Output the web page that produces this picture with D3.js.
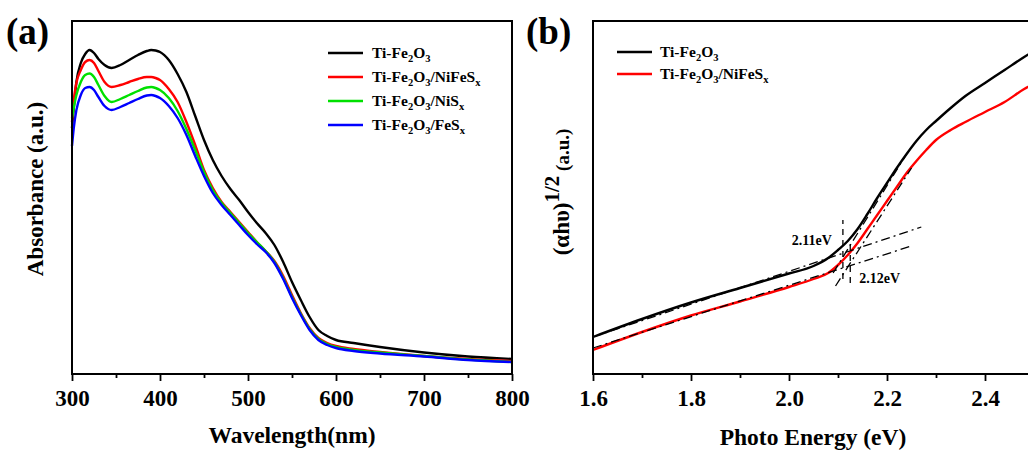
<!DOCTYPE html>
<html>
<head>
<meta charset="utf-8">
<script src="https://cdn.jsdelivr.net/npm/d3@7"></script>
<style>
  body { margin: 0; background: #fff; }
  svg { display: block; }
  text { font-family: "Liberation Serif", "Times New Roman", serif; font-weight: bold; }
</style>
</head>
<body>
<script>
// ---- panel (a) data: UV-vis absorbance (a.u.) ----
const wavelength = [300,302,305,310,315,320,325,330,337,345,355,365,375,385,390,395,400,410,420,430,440,450,460,470,480,490,500,510,520,530,540,550,560,570,580,590,600,620,650,700,750,800];
const absTiFe2O3 = [2.46,2.66,2.92,3.11,3.20,3.24,3.21,3.15,3.09,3.06,3.09,3.14,3.19,3.23,3.24,3.235,3.22,3.14,3.00,2.82,2.58,2.34,2.14,1.98,1.85,1.74,1.62,1.51,1.41,1.29,1.12,0.92,0.74,0.57,0.44,0.38,0.34,0.31,0.27,0.215,0.175,0.15];
const absNiFeS = [2.52,2.74,2.91,3.04,3.12,3.14,3.11,3.03,2.92,2.87,2.89,2.92,2.95,2.97,2.97,2.96,2.94,2.85,2.72,2.52,2.29,2.04,1.86,1.72,1.62,1.52,1.42,1.32,1.23,1.13,0.98,0.79,0.61,0.46,0.36,0.31,0.28,0.25,0.22,0.18,0.15,0.13];
const absNiS = [2.56,2.66,2.79,2.92,2.99,3.005,2.97,2.89,2.78,2.72,2.75,2.79,2.83,2.865,2.87,2.86,2.84,2.76,2.63,2.45,2.24,2.02,1.84,1.71,1.61,1.51,1.41,1.32,1.23,1.12,0.96,0.77,0.60,0.45,0.35,0.30,0.27,0.24,0.215,0.18,0.145,0.12];
const absFeS = [2.28,2.46,2.64,2.79,2.86,2.87,2.84,2.77,2.68,2.64,2.67,2.71,2.75,2.785,2.79,2.78,2.76,2.68,2.56,2.39,2.18,1.98,1.81,1.69,1.59,1.49,1.39,1.30,1.22,1.11,0.95,0.76,0.59,0.44,0.34,0.29,0.26,0.23,0.205,0.175,0.14,0.12];
const wlTicks = [300,400,500,600,700,800];

// ---- panel (b) data: Tauc plot ----
const energy = [1.60,1.70,1.80,1.90,2.00,2.05,2.08,2.10,2.12,2.14,2.16,2.18,2.20,2.22,2.24,2.26,2.28,2.30,2.33,2.36,2.40,2.44,2.48,2.51];
const taucTiFe2O3 = [0.37,0.55,0.715,0.86,1.005,1.08,1.16,1.24,1.33,1.45,1.60,1.76,1.91,2.06,2.20,2.33,2.44,2.53,2.66,2.78,2.91,3.04,3.17,3.26];
const taucNiFeS = [0.24,0.42,0.585,0.725,0.87,0.95,1.01,1.09,1.19,1.31,1.45,1.59,1.73,1.87,2.01,2.13,2.24,2.34,2.44,2.52,2.62,2.72,2.85,2.93];
const eTicks = [1.6,1.8,2.0,2.2,2.4];
// fitted lines [[E0, y0], [E1, y1]]
const fitBaseBlack = [[1.6,0.37],[2.27,1.47]];
const fitBaseRed = [[1.6,0.26],[2.25,1.28]];
const fitEdgeBlack = [[2.09,1.01],[2.24,2.20]];
const fitEdgeRed = [[2.095,0.88],[2.25,2.06]];
const gapMarks = [{e:2.11, y0:0.95, y1:1.54, label:"2.11eV"}, {e:2.125, y0:0.91, y1:1.36, label:"2.12eV"}];

const W = 1028, H = 450;
const serif = "'Liberation Serif', 'Times New Roman', serif";
const svg = d3.select("body").append("svg").attr("width", W).attr("height", H);
svg.append("rect").attr("width", W).attr("height", H).attr("fill", "#fff");

const yTop = 21, yBottom = 374;

function styleTicks(g) {
  g.attr("font-family", serif);
  g.select(".domain").remove();
  g.selectAll("line").attr("stroke-width", 1.8);
  g.selectAll("text").attr("y", 16).attr("font-size", 23).attr("fill", "#000")
    .style("font-family", serif).style("font-weight", "bold");
}

// ================= panel (a) =================
const xa = d3.scaleLinear().domain([300, 800]).range([72, 512]);
const ya = d3.scaleLinear().domain([0, 3.53]).range([yBottom, yTop]);

const ga = svg.append("g");
// minor ticks
ga.append("g").attr("transform", "translate(0," + yBottom + ")")
  .call(d3.axisBottom(xa).tickValues(d3.range(350, 800, 100)).tickSize(4).tickFormat(""))
  .call(styleTicks);
ga.append("g").attr("transform", "translate(0," + yBottom + ")")
  .call(d3.axisBottom(xa).tickValues(wlTicks).tickSize(7).tickFormat(d3.format("d")))
  .call(styleTicks);

const lineA = d3.line().x(d => xa(d[0])).y(d => ya(d[1])).curve(d3.curveMonotoneX);
const seriesA = [
  {vals: absTiFe2O3, color: "#000000"},
  {vals: absNiFeS, color: "#ff0000"},
  {vals: absNiS, color: "#00e000"},
  {vals: absFeS, color: "#0000ff"}
];
seriesA.forEach(s => {
  ga.append("path").datum(wavelength.map((w, i) => [w, s.vals[i]]))
    .attr("d", lineA).attr("fill", "none").attr("stroke", s.color).attr("stroke-width", 2.4);
});

ga.append("rect").attr("x", 72).attr("y", yTop).attr("width", 440).attr("height", yBottom - yTop)
  .attr("fill", "none").attr("stroke", "#000").attr("stroke-width", 2);

// legend (a)
const legA = [
  {color: "#000000", suffix: ""},
  {color: "#ff0000", suffix: "NiFeS"},
  {color: "#00e000", suffix: "NiS"},
  {color: "#0000ff", suffix: "FeS"}
];
function formula(t, suffix) {
  t.append("tspan").text("Ti-Fe");
  t.append("tspan").text("2").attr("font-size", "0.68em").attr("dy", 4);
  t.append("tspan").text("O").attr("dy", -4);
  t.append("tspan").text("3").attr("font-size", "0.68em").attr("dy", 4);
  if (suffix) {
    t.append("tspan").text("/" + suffix).attr("dy", -4);
    t.append("tspan").text("x").attr("font-size", "0.68em").attr("dy", 4);
  }
}
legA.forEach((d, i) => {
  const yy = 53 + i * 24;
  ga.append("line").attr("x1", 328).attr("x2", 363).attr("y1", yy).attr("y2", yy)
    .attr("stroke", d.color).attr("stroke-width", 2.4);
  const t = ga.append("text").attr("x", 372).attr("y", yy + 5).attr("font-size", 15.5);
  formula(t, d.suffix);
});

ga.append("text").attr("x", 292).attr("y", 443).attr("text-anchor", "middle")
  .attr("font-size", 23.5).text("Wavelength(nm)");
ga.append("text").attr("transform", "translate(43,189) rotate(-90)").attr("text-anchor", "middle")
  .attr("font-size", 23).text("Absorbance (a.u.)");
ga.append("text").attr("x", 6).attr("y", 44).attr("font-size", 37).text("(a)");

// ================= panel (b) =================
const xb = d3.scaleLinear().domain([1.6, 2.5]).range([593, 1034]);
const yb = d3.scaleLinear().domain([0, 3.53]).range([yBottom, yTop]);
const gb = svg.append("g");

gb.append("g").attr("transform", "translate(0," + yBottom + ")")
  .call(d3.axisBottom(xb).tickValues(d3.range(1.7, 2.55, 0.2)).tickSize(4).tickFormat(""))
  .call(styleTicks);
gb.append("g").attr("transform", "translate(0," + yBottom + ")")
  .call(d3.axisBottom(xb).tickValues(eTicks).tickSize(7).tickFormat(d3.format(".1f")))
  .call(styleTicks);

const lineB = d3.line().x(d => xb(d[0])).y(d => yb(d[1])).curve(d3.curveMonotoneX);
gb.append("path").datum(energy.map((e, i) => [e, taucTiFe2O3[i]]))
  .attr("d", lineB).attr("fill", "none").attr("stroke", "#000").attr("stroke-width", 2.4);
gb.append("path").datum(energy.map((e, i) => [e, taucNiFeS[i]]))
  .attr("d", lineB).attr("fill", "none").attr("stroke", "#ff0000").attr("stroke-width", 2.4);

[fitBaseBlack, fitBaseRed, fitEdgeBlack, fitEdgeRed].forEach(f => {
  gb.append("path").attr("d", d3.line().x(d => xb(d[0])).y(d => yb(d[1]))(f))
    .attr("fill", "none").attr("stroke", "#000").attr("stroke-width", 1.3)
    .attr("stroke-dasharray", "9,4,2,4");
});
gapMarks.forEach(m => {
  gb.append("line").attr("x1", xb(m.e)).attr("x2", xb(m.e)).attr("y1", yb(m.y0)).attr("y2", yb(m.y1))
    .attr("stroke", "#000").attr("stroke-width", 1.3).attr("stroke-dasharray", "6,5");
});
gb.append("text").attr("x", xb(2.108) - 10).attr("y", yb(1.29)).attr("text-anchor", "end")
  .attr("font-size", 14).text(gapMarks[0].label);
gb.append("text").attr("x", xb(2.125) + 9).attr("y", yb(0.91)).attr("font-size", 14).text(gapMarks[1].label);

// frame (right side runs off the page)
gb.append("path").attr("d", `M1040,${yTop}H593V${yBottom}H1040`)
  .attr("fill", "none").attr("stroke", "#000").attr("stroke-width", 2);

// legend (b)
[{color: "#000000", suffix: ""}, {color: "#ff0000", suffix: "NiFeS"}].forEach((d, i) => {
  const yy = 52 + i * 22;
  gb.append("line").attr("x1", 617).attr("x2", 652).attr("y1", yy).attr("y2", yy)
    .attr("stroke", d.color).attr("stroke-width", 2.4);
  const t = gb.append("text").attr("x", 660).attr("y", yy + 5).attr("font-size", 15.5);
  formula(t, d.suffix);
});

gb.append("text").attr("x", 813).attr("y", 445).attr("text-anchor", "middle")
  .attr("font-size", 23.5).text("Photo Energy (eV)");
const yt = gb.append("text").attr("transform", "translate(569,192) rotate(-90)").attr("text-anchor", "middle")
  .attr("font-size", 23);
yt.append("tspan").text("(αhυ)");
yt.append("tspan").text("1/2").attr("dy", -10).attr("font-size", 21);
yt.append("tspan").text(" (a.u.)").attr("dy", 10).attr("font-size", 19);
gb.append("text").attr("x", 526).attr("y", 44).attr("font-size", 37).text("(b)");
</script>
</body>
</html>
